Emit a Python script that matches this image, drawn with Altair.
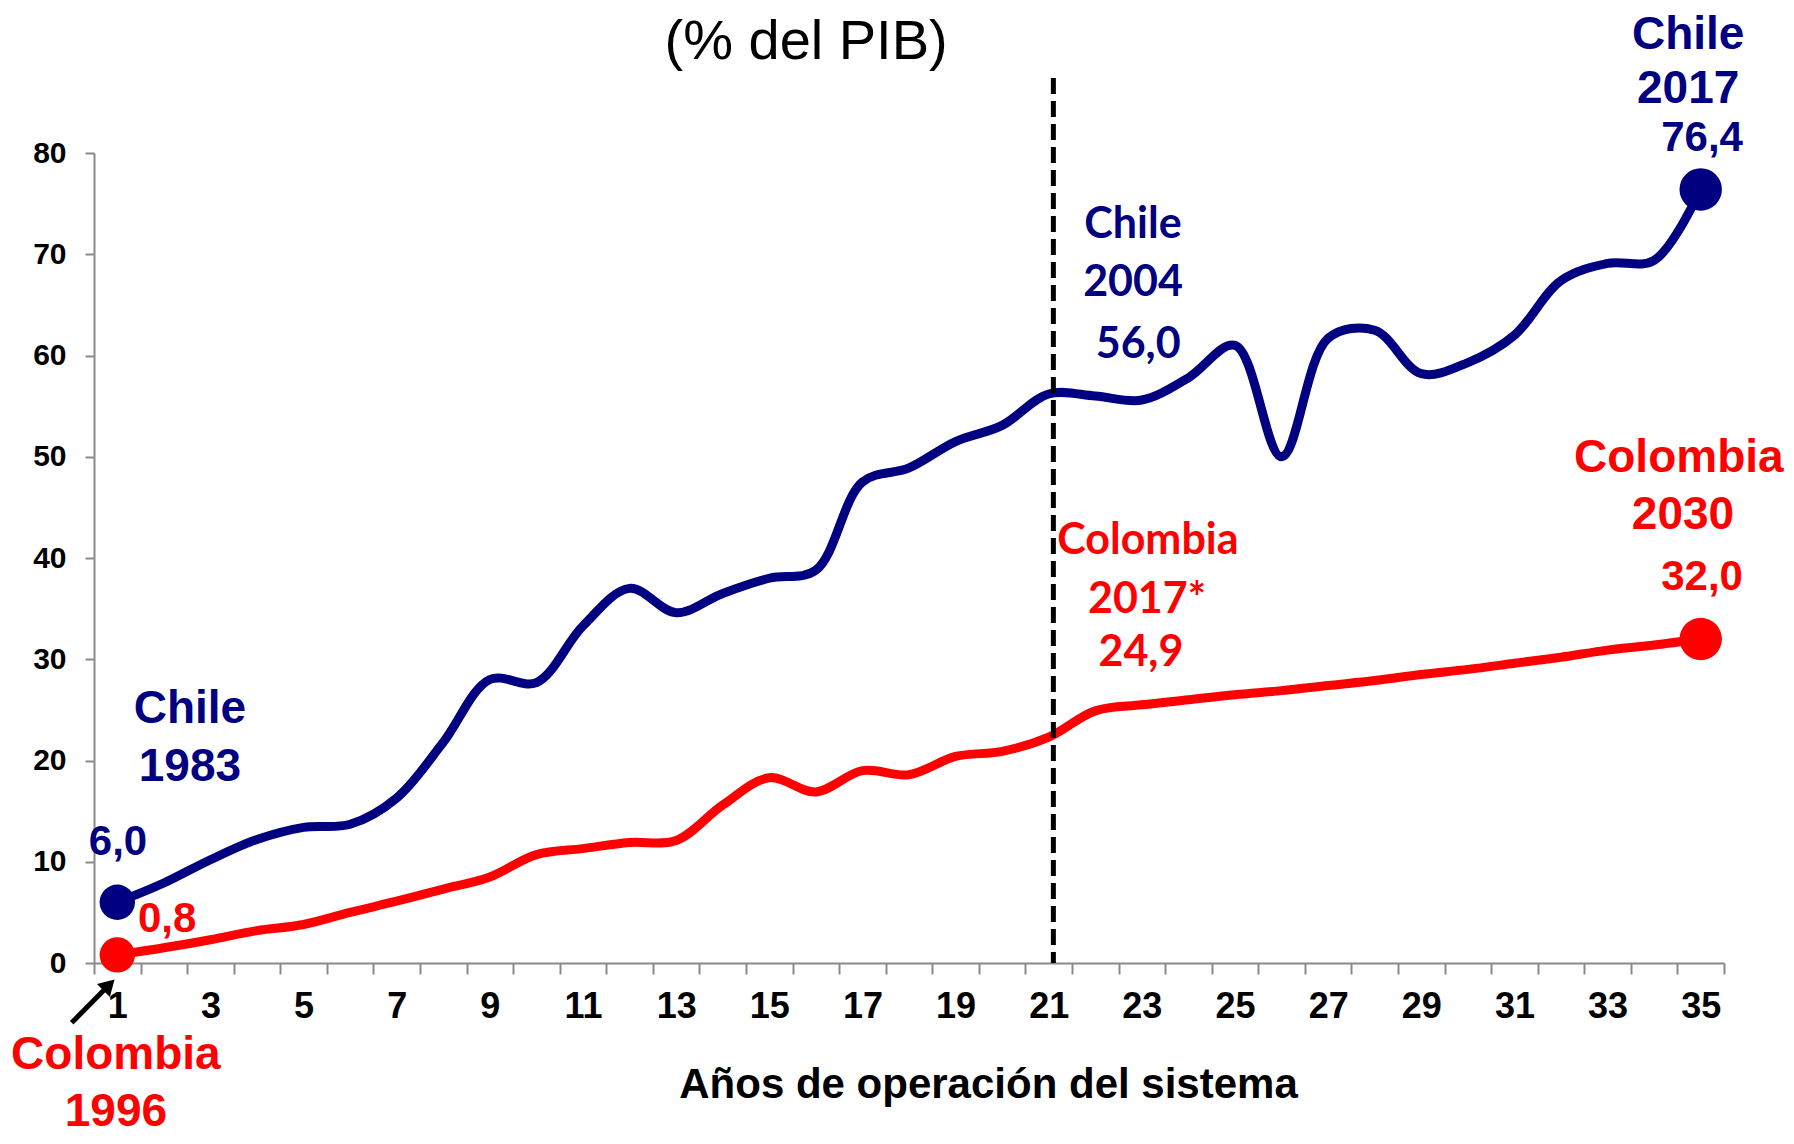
import altair as alt
import pandas as pd

NAVY = "#000080"
RED = "#ff0000"

# ---- data ----
years = list(range(1, 36))
chile = [6.0, 7.9, 10.2, 12.2, 13.4, 13.7, 16.3, 21.8, 28.0, 27.7,
         33.3, 37.0, 34.6, 36.5, 38.0, 38.8, 47.5, 48.9, 51.5, 53.1,
         56.2, 56.0, 55.6, 57.8, 61.0, 50.0, 61.7, 62.5, 58.2, 59.3,
         62.0, 67.4, 69.1, 69.4, 76.4]
colombia = [0.8, 1.5, 2.3, 3.2, 3.8, 5.0, 6.1, 7.3, 8.5, 10.7,
            11.3, 11.9, 12.1, 15.6, 18.3, 16.9, 19.0, 18.6, 20.4, 20.9,
            22.3, 24.9, 25.5, 26.0, 26.5, 26.9, 27.4, 27.9, 28.5, 29.0,
            29.6, 30.2, 30.9, 31.4, 32.0]

divider_x = 21.1
divider_top = 87.4

# Arial-bold annotations (46px)
big_text = ["Chile", "1983", "Colombia", "1996", "Chile", "2017", "Colombia", "2030"]
big_x = [2.56, 2.56, 0.97, 0.97, 34.73, 34.73, 34.53, 34.62]
big_y = [23.70, 17.98, -10.47, -16.10, 90.27, 84.94, 48.49, 42.86]
big_c = [NAVY, NAVY, RED, RED, NAVY, NAVY, RED, RED]

# Arial-bold values (42px)
val_text = ["6,0", "0,8", "76,4", "32,0"]
val_x = [1.015, 2.07, 35.03, 35.03]
val_y = [10.67, 3.06, 80.20, 36.84]
val_c = [NAVY, RED, NAVY, RED]

# Calibri-like annotations (Lato 43px)
mid_text = ["Chile", "2004", "56,0", "Colombia", "2017*", "24,9"]
mid_x = [22.81, 22.81, 22.92, 23.13, 23.11, 22.98]
mid_y = [71.60, 65.88, 59.75, 40.40, 34.57, 29.33]
mid_c = [NAVY, NAVY, NAVY, RED, RED, RED]

title_text = ["(% del PIB)"]
title_x = [15.79]
title_y = [89.28]

# arrow pointing at Colombia 1996 start
arrow_x, arrow_y, arrow_x2, arrow_y2 = [0.021], [-5.9], [0.715], [-2.67]
head_x, head_y = [0.822], [-2.17]

# ---- frames ----
line_df = pd.DataFrame({
    "year": years * 2,
    "value": chile + colombia,
    "pais": ["Chile"] * len(years) + ["Colombia"] * len(years),
})
dot_df = pd.DataFrame({
    "year": [years[0], years[-1], years[0], years[-1]],
    "value": [chile[0], chile[-1], colombia[0], colombia[-1]],
    "pais": ["Chile", "Chile", "Colombia", "Colombia"],
    "sz": [1250, 1800, 1250, 1800],
})
rule_df = pd.DataFrame({"year": [divider_x], "value": [divider_top], "value2": [0]})
big_df = pd.DataFrame({"label": big_text, "year": big_x, "value": big_y, "c": big_c})
val_df = pd.DataFrame({"label": val_text, "year": val_x, "value": val_y, "c": val_c})
mid_df = pd.DataFrame({"label": mid_text, "year": mid_x, "value": mid_y, "c": mid_c})
title_df = pd.DataFrame({"label": title_text, "year": title_x, "value": title_y})
arrow_df = pd.DataFrame({"year": arrow_x, "value": arrow_y, "year2": arrow_x2, "value2": arrow_y2})
head_df = pd.DataFrame({"year": head_x, "value": head_y})

# ---- scales / axes ----
x_scale = alt.Scale(domain=[0.5, 35.5], nice=False, zero=False)
y_scale = alt.Scale(domain=[0, 80], nice=False)
color_scale = alt.Scale(domain=["Chile", "Colombia"], range=[NAVY, RED])

tick_vals = [i + 0.5 for i in range(0, 36)] + list(range(1, 36, 2))

x_axis = alt.Axis(
    values=tick_vals,
    labelExpr="datum.value % 2 == 1 ? format(datum.value, 'd') : ''",
    tickOpacity={"condition": {"test": "datum.value % 1 == 0", "value": 0}, "value": 1},
    tickSize=11, tickWidth=2, tickColor="#898989",
    domainColor="#898989", domainWidth=2,
    labelFont="Liberation Sans", labelFontSize=36, labelFontWeight="bold",
    labelColor="#000000", labelPadding=15, labelOverlap=False, labelFlush=False,
    grid=False,
    title="Años de operación del sistema",
    titleFont="Liberation Sans", titleFontSize=42, titleFontWeight="bold",
    titleColor="#000000", titleX=894, titleY=134,
    titleBaseline="alphabetic", titleAlign="center",
)
y_axis = alt.Axis(
    values=[0, 10, 20, 30, 40, 50, 60, 70, 80],
    tickSize=9, tickWidth=2, tickColor="#898989",
    domainColor="#898989", domainWidth=2,
    labelFont="Liberation Sans", labelFontSize=30, labelFontWeight="bold",
    labelColor="#000000", labelPadding=19,
    grid=False, title=None,
)

X = alt.X("year:Q", scale=x_scale, axis=x_axis)
Y = alt.Y("value:Q", scale=y_scale, axis=y_axis)

lines = alt.Chart(line_df).mark_line(
    interpolate="catmull-rom", strokeWidth=9, strokeCap="round"
).encode(x=X, y=Y, color=alt.Color("pais:N", scale=color_scale, legend=None))

divider = alt.Chart(rule_df).mark_rule(
    color="#000000", strokeWidth=5, strokeDash=[16, 7]
).encode(x=X, y=Y, y2="value2:Q")

dots = alt.Chart(dot_df).mark_circle(opacity=1).encode(
    x=X, y=Y,
    color=alt.Color("pais:N", scale=color_scale, legend=None),
    size=alt.Size("sz:Q", scale=None),
)

def text_layer(df, font, size, weight, colored=True):
    enc = dict(x=X, y=Y, text="label:N")
    if colored:
        enc["color"] = alt.Color("c:N", scale=None)
    return alt.Chart(df).mark_text(
        font=font, fontSize=size, fontWeight=weight,
        align="center", baseline="alphabetic", color="#000000",
    ).encode(**enc)

big = text_layer(big_df, "Liberation Sans", 46, "bold")
vals = text_layer(val_df, "Liberation Sans", 42, "bold")
mid = text_layer(mid_df, "Lato", 43, "bold")
title = text_layer(title_df, "Liberation Sans", 56, "normal", colored=False)

arrow = alt.Chart(arrow_df).mark_rule(color="#000000", strokeWidth=5).encode(
    x=X, y=Y, x2="year2:Q", y2="value2:Q"
)
head = alt.Chart(head_df).mark_point(
    shape="triangle-up", filled=True, color="#000000", opacity=1, size=330, angle=45
).encode(x=X, y=Y)

chart = alt.layer(
    lines, divider, dots, big, vals, mid, title, arrow, head
).properties(
    width=1630, height=810,
    padding={"left": 86, "top": 145, "right": 60, "bottom": 172},
    autosize=alt.AutoSizeParams(type="none"),
    background="#ffffff",
).configure_view(stroke=None)

chart.save("out.html", embed_options={"renderer": "svg", "actions": False})
